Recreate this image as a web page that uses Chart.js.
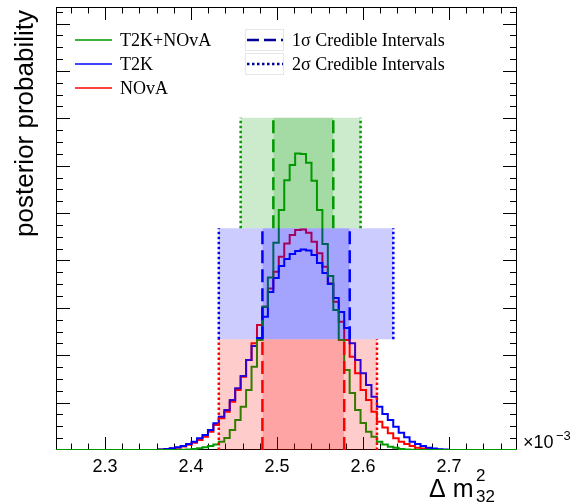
<!DOCTYPE html>
<html>
<head>
<meta charset="utf-8">
<script src="https://cdn.jsdelivr.net/npm/chart.js@4.4.0/dist/chart.umd.min.js"></script>
<style>
  html, body { margin: 0; padding: 0; background: #fff; }
</style>
</head>
<body>
<canvas id="chart" width="587" height="504"></canvas>
<script>
// axis ranges (x in units of 10^-3 eV^2)
const xMin = 2.243, xMax = 2.779;
const yMax = 0.0935;

// posterior histograms: low edge of first bin and common bin width
const binLow = 2.36262;
const binWidth = 0.006337;

const t2kNova = [
  0, 0, 0, 0, 0.00005, 0.0001, 0.0002, 0.00036, 0.00057, 0.00084,
  0.00116, 0.00175, 0.00253, 0.00422, 0.00633, 0.00914, 0.01266, 0.01757, 0.02321, 0.03023,
  0.03643, 0.04373, 0.05063, 0.05696, 0.06013, 0.06259, 0.0625, 0.06061, 0.05681, 0.05063,
  0.04346, 0.03671, 0.02954, 0.02321, 0.01688, 0.01203, 0.00844, 0.0057, 0.00386, 0.00281,
  0.00175, 0.00116, 0.0007, 0.00049, 0.00021, 0.0001, 0.00005, 0, 0, 0,
  0, 0, 0
];
const t2k = [
  0.00013, 0.00021, 0.00036, 0.00057, 0.00084, 0.00127, 0.00175, 0.00247, 0.00316, 0.00422,
  0.00563, 0.00703, 0.00844, 0.01055, 0.01302, 0.01561, 0.01899, 0.02194, 0.02363, 0.02812,
  0.03333, 0.03629, 0.03882, 0.0403, 0.04135, 0.04198, 0.0423, 0.04209, 0.04114, 0.03945,
  0.03734, 0.03502, 0.03207, 0.02911, 0.02574, 0.02251, 0.01899, 0.01618, 0.01371, 0.01124,
  0.00914, 0.00759, 0.00633, 0.00492, 0.00365, 0.00268, 0.00175, 0.00127, 0.00084, 0.00049,
  0.00032, 0.00017, 0.0001
];
const nova = [
  0.00008, 0.00017, 0.00032, 0.00049, 0.00074, 0.00112, 0.00154, 0.00211, 0.00281, 0.00386,
  0.00527, 0.00669, 0.00808, 0.01019, 0.01266, 0.01546, 0.01899, 0.02251, 0.02637, 0.03023,
  0.03411, 0.03762, 0.04078, 0.04361, 0.04536, 0.04641, 0.04656, 0.04584, 0.04395, 0.0415,
  0.03867, 0.03517, 0.03129, 0.02707, 0.02321, 0.01968, 0.01618, 0.01266, 0.01055, 0.00808,
  0.00597, 0.00475, 0.00352, 0.00247, 0.00175, 0.00127, 0.00084, 0.00049, 0.00032, 0.00021,
  0.0001, 0.00005, 0
];

const seriesNames = ['T2K+NOvA', 'T2K', 'NOvA'];
const seriesValues = [t2kNova, t2k, nova];
const lineColors = ['#009900', '#0000ff', '#ff0000'];
const boxColors = ['rgba(0,155,0,0.2)', 'rgba(0,0,255,0.2)', 'rgba(255,0,0,0.2)'];

// credible intervals and the vertical band each one occupies
const interval1 = [[2.4957, 2.5654], [2.4830, 2.5845], [2.4830, 2.5781]];
const interval2 = [[2.4577, 2.5971], [2.4323, 2.6352], [2.4323, 2.6162]];
const bandLow = [0.0468, 0.0234, 0];
const bandHigh = [0.0701, 0.0468, 0.0234];

const xMajorTicks = [2.3, 2.4, 2.5, 2.6, 2.7];
const xTickLabels = ['2.3', '2.4', '2.5', '2.6', '2.7'];

function stepPoints(values) {
  const pts = [{ x: xMin, y: 0 }];
  values.forEach((v, i) => pts.push({ x: binLow + i * binWidth, y: v }));
  pts.push({ x: binLow + values.length * binWidth, y: 0 });
  pts.push({ x: xMax, y: 0 });
  return pts;
}

function boxPoints(range, i) {
  return [{ x: range[0], y: bandHigh[i] }, { x: range[1], y: bandHigh[i] }];
}

function edgePoints(range, i) {
  return [
    { x: range[0], y: bandLow[i] }, { x: range[0], y: bandHigh[i] },
    { x: range[0], y: null },
    { x: range[1], y: bandLow[i] }, { x: range[1], y: bandHigh[i] },
  ];
}

const datasets = [];
seriesValues.forEach((vals, i) => {
  datasets.push({
    label: seriesNames[i],
    data: stepPoints(vals),
    stepped: true,
    borderColor: lineColors[i],
    borderWidth: 2,
    borderJoinStyle: 'miter',
    fill: false,
    order: 3,
  });
});
[interval2, interval1].forEach(intervals => {
  intervals.forEach((range, i) => {
    datasets.push({
      data: boxPoints(range, i),
      borderWidth: 0,
      borderColor: 'rgba(0,0,0,0)',
      backgroundColor: boxColors[i],
      fill: { value: bandLow[i] },
      order: 2,
    });
  });
});
interval1.forEach((range, i) => {
  datasets.push({
    data: edgePoints(range, i),
    borderColor: lineColors[i],
    borderWidth: 2.5,
    borderDash: [13, 6],
    fill: false,
    order: 1,
  });
});
interval2.forEach((range, i) => {
  datasets.push({
    data: edgePoints(range, i),
    borderColor: lineColors[i],
    borderWidth: 2.5,
    borderDash: [2.5, 2.5],
    fill: false,
    order: 1,
  });
});

// frame and inward tick marks on all four sides
const framePlugin = {
  id: 'frame',
  beforeDatasetsDraw(chart) {
    const { ctx, chartArea: a, scales: { x, y } } = chart;
    ctx.save();
    ctx.strokeStyle = '#000';
    ctx.lineWidth = 1;
    ctx.strokeRect(a.left + 0.5, a.top + 0.5, a.right - a.left - 1, a.bottom - a.top - 1);
    ctx.beginPath();
    for (let n = 113; n <= 388; n++) {
      const v = n / 50;
      const px = Math.round(x.getPixelForValue(v)) + 0.5;
      if (px <= a.left || px >= a.right) continue;
      const len = n % 5 === 0 ? 13 : 6.5;
      ctx.moveTo(px, a.bottom); ctx.lineTo(px, a.bottom - len);
      ctx.moveTo(px, a.top); ctx.lineTo(px, a.top + len);
    }
    for (let n = 1; n * 0.0025 < yMax; n++) {
      const py = Math.round(y.getPixelForValue(n * 0.0025)) + 0.5;
      const len = n % 4 === 0 ? 14 : 7;
      ctx.moveTo(a.left, py); ctx.lineTo(a.left + len, py);
      ctx.moveTo(a.right, py); ctx.lineTo(a.right - len, py);
    }
    ctx.stroke();
    ctx.restore();
  },
};

const legendPlugin = {
  id: 'rootLegend',
  afterDraw(chart) {
    const { ctx } = chart;
    ctx.save();
    ctx.font = '18px "Liberation Serif"';
    ctx.textBaseline = 'middle';
    ctx.fillStyle = '#000';
    seriesNames.forEach((name, i) => {
      const yy = 40 + i * 24;
      ctx.strokeStyle = lineColors[i];
      ctx.lineWidth = 1.5;
      ctx.beginPath(); ctx.moveTo(75, yy); ctx.lineTo(112, yy); ctx.stroke();
      ctx.fillText(name, 120, yy + 1);
    });
    const intervalLabels = ['1σ Credible Intervals', '2σ Credible Intervals'];
    const intervalDash = [[12, 5], [2.5, 2.5]];
    intervalLabels.forEach((txt, i) => {
      const yy = 40 + i * 24;
      ctx.strokeStyle = '#e6e6e6';
      ctx.lineWidth = 1;
      ctx.strokeRect(245.5, yy - 10.5, 38, 21);
      ctx.strokeStyle = '#000099';
      ctx.lineWidth = 2.5;
      ctx.setLineDash(intervalDash[i]);
      ctx.beginPath(); ctx.moveTo(247, yy); ctx.lineTo(283, yy); ctx.stroke();
      ctx.setLineDash([]);
      ctx.fillText(txt, 292, yy + 1);
    });

    // axis titles
    ctx.font = '26px "Liberation Sans"';
    ctx.save();
    ctx.translate(26, 10);
    ctx.rotate(-Math.PI / 2);
    ctx.textAlign = 'right';
    ctx.fillText('posterior probability', 0, 0);
    ctx.restore();

    ctx.textBaseline = 'alphabetic';
    ctx.font = '25px "Liberation Sans"';
    ctx.fillText('Δ m', 429, 497);
    ctx.font = '17px "Liberation Sans"';
    ctx.fillText('2', 476, 481);
    ctx.fillText('32', 476, 502);

    ctx.font = '18px "Liberation Sans"';
    ctx.fillText('×10', 523, 448);
    ctx.font = '13px "Liberation Sans"';
    ctx.fillText('−3', 556, 440);
    ctx.restore();
  },
};

new Chart(document.getElementById('chart').getContext('2d'), {
  type: 'line',
  data: { datasets },
  options: {
    responsive: false,
    animation: false,
    layout: { padding: { left: 0, right: 70, top: 7, bottom: 0 } },
    elements: { point: { radius: 0 }, line: { tension: 0, borderCapStyle: 'butt' } },
    plugins: {
      legend: { display: false },
      tooltip: { enabled: false },
      filler: { drawTime: 'beforeDatasetDraw' },
    },
    scales: {
      x: {
        type: 'linear',
        min: xMin,
        max: xMax,
        grid: { display: false },
        border: { display: false },
        afterBuildTicks: s => { s.ticks = xMajorTicks.map(v => ({ value: v })); },
        afterFit: s => { s.height = 54; },
        ticks: {
          autoSkip: false,
          maxRotation: 0,
          padding: -2,
          color: '#000',
          font: { family: 'Liberation Sans', size: 18 },
          callback: (v, i) => xTickLabels[i],
        },
      },
      y: {
        min: 0,
        max: yMax,
        grid: { display: false },
        border: { display: false },
        ticks: { display: false },
        afterFit: s => { s.width = 56; },
      },
    },
  },
  plugins: [framePlugin, legendPlugin],
});
</script>
</body>
</html>
